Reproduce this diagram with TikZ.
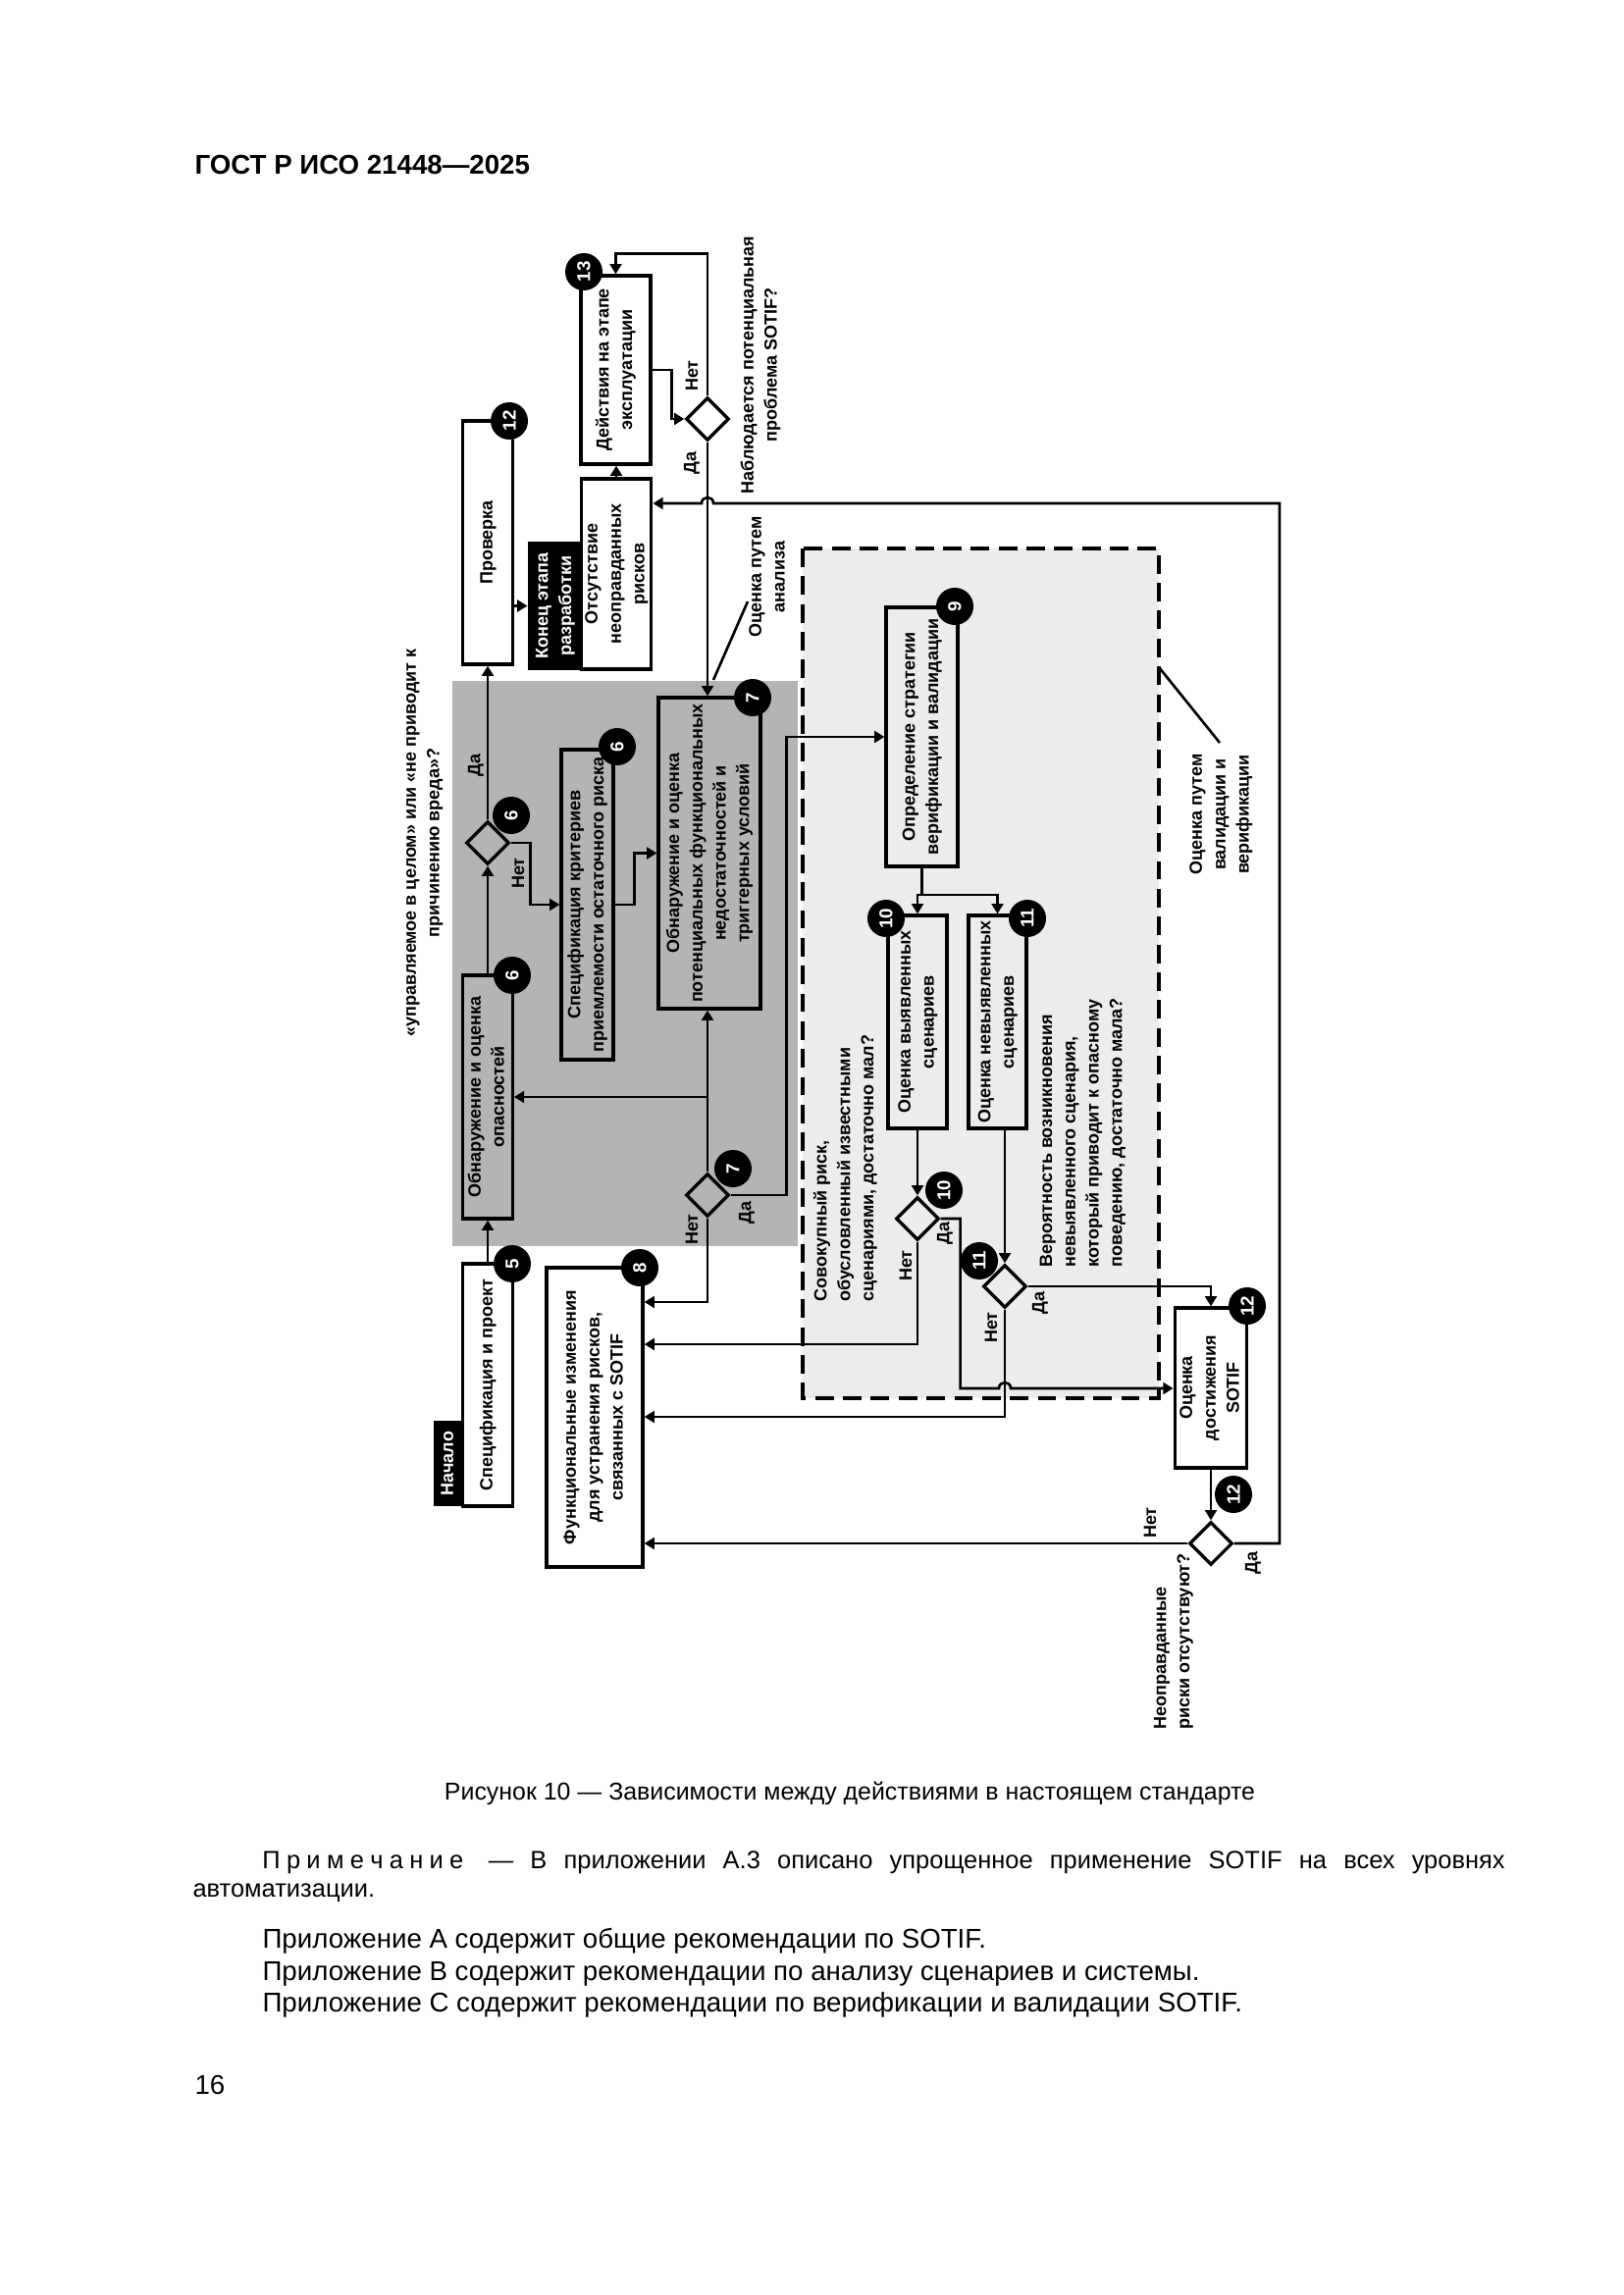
\documentclass[tikz,border=0pt]{standalone}
\usepackage{fontspec}
\setmainfont{Liberation Sans}
\usepackage{graphicx}
\usetikzlibrary{arrows.meta,shapes.geometric}
\newcommand{\pxu}{0.127mm}
\newcommand{\dfont}{\fontsize{6.5}{8.6}\selectfont\bfseries}
\newcommand{\rt}[1]{\rotatebox{90}{\begin{tabular}{@{}c@{}}#1\end{tabular}}}
\newcommand{\rtl}[1]{\rotatebox{90}{\begin{tabular}{@{}l@{}}#1\end{tabular}}}
\newcommand{\rn}[1]{\rotatebox{90}{#1}}
\definecolor{dkgray}{HTML}{B4B4B4}
\definecolor{ltgray}{HTML}{ECECEC}
\tikzset{
 bx/.style={draw, line width=1.2pt, inner sep=0pt, font=\dfont},
 sz/.style 2 args={minimum width=#1*\pxu, minimum height=#2*\pxu},
 blk/.style={fill=black, text=white, inner sep=0pt, font=\dfont},
 dec/.style={draw, diamond, line width=1.2pt, inner sep=0pt, minimum width=44*\pxu, minimum height=44*\pxu},
 num/.style={circle, fill=black, text=white, inner sep=0pt, minimum size=38*\pxu, font=\fontsize{6.8}{7}\selectfont\bfseries},
 ar/.style={line width=0.95pt, -{Triangle[length=1.3mm,width=1.5mm]}},
 ln/.style={line width=0.95pt},
 lbl/.style={inner sep=0pt, font=\dfont},
 yn/.style={inner sep=0pt, font=\dfont},
 ptxt/.style={inner sep=0pt, anchor=base west}
}
\begin{document}
\begin{tikzpicture}[x=\pxu, y=-\pxu]
\useasboundingbox (0,0) rectangle (1654,2339);
\fill[white] (0,0) rectangle (1654,2339);

% header
\node[ptxt, font=\fontsize{10}{12}\selectfont\bfseries] (hdr) at (198,178) {ГОСТ Р ИСО 21448—2025};

% regions
\fill[dkgray] (461,694) rectangle (813,1270);
\draw[fill=ltgray, line width=1.1pt, dash pattern=on 2.4mm off 1.2mm] (818,559) rectangle (1181,1425);

% boxes
\node[blk, sz={30}{87}] (nach) at (457,1491.5) {\rt{Начало}};
\node[bx, sz={50.5}{247}] (b5) at (497,1411.5) {\rt{Спецификация и проект}};
\node[bx, sz={50.5}{248}] (haz) at (497,1118) {\rt{Обнаружение и оценка\\опасностей}};
\node[dec] (d6) at (497,859) {};
\node[bx, sz={51}{248}] (chk) at (497,553) {\rt{Проверка}};
\node[bx, sz={53}{316}] (spec) at (598.5,922) {\rt{Спецификация критериев\\приемлемости остаточного риска}};
\node[bx, sz={104}{317}] (b7) at (723,869.5) {\rt{Обнаружение и оценка\\потенциальных функциональных\\недостаточностей и\\триггерных условий}};
\node[dec] (d7) at (721,1218) {};
\node[blk, sz={55}{131}] (kon) at (565.5,617.5) {\rt{Конец этапа\\разработки}};
\node[bx, sz={70}{194}] (ots) at (628,585) {\rt{Отсутствие\\неоправданных\\рисков}};
\node[bx, sz={71}{192}] (b13) at (627.5,377) {\rt{Действия на этапе\\эксплуатации}};
\node[dec] (d13) at (721,427) {};
\node[bx, sz={98}{305}] (b8) at (606,1444.5) {\rt{Функциональные изменения\\для устранения рисков,\\связанных с SOTIF}};
\node[bx, sz={73}{264}] (b9) at (939.5,751) {\rt{Определение стратегии\\верификации и валидации}};
\node[bx, sz={60}{217}] (b10) at (935,1041.5) {\rt{Оценка выявленных\\сценариев}};
\node[bx, sz={59}{217}] (b11) at (1016.5,1041.5) {\rt{Оценка невыявленных\\сценариев}};
\node[dec] (d10) at (935,1242) {};
\node[dec] (d11) at (1024,1311) {};
\node[bx, sz={73.5}{163}] (b12) at (1234,1414.5) {\rt{Оценка\\достижения\\SOTIF}};
\node[dec] (dF) at (1234,1573) {};

% connectors
\draw[ar] (b5.north) -- (haz.south);
\draw[ar] (haz.north) -- (d6.south);
\draw[ar] (d6.north) -- (chk.south);
\draw[ar] (d6.east) -- ++(20,0) |- (spec.west);
\draw[ar] (spec.east) -- ++(20,0) |- (b7.west);
\draw[ar] (chk.east |- kon.west) -- (kon.west);
\draw[ar] (ots.north) -- (ots.north |- b13.south);
\draw[ar] (b13.east) -- ++(20,0) |- (d13.west);
\draw[ar] (d13.north) -- ++(0,-145) -| (b13.north);
\draw[ar] (d13.south) -- (d13.south |- b7.north);
\coordinate (rt) at (1304,513);
\draw[ar] (dF.east) -| (rt) -- (727,513) .. controls (727,505) and (715,505) .. (715,513) -- (ots.east |- rt);
\draw[ar] (d7.north) -- (d7.north |- b7.south);
\draw[ar] (d7.north |- haz.east) -- (haz.east);
\draw[ar] (d7.east) -- ++(57,0) |- (b9.west);
\draw[ar] (d7.south) |- (b8.east |- 0,1327);
\draw[ln] (b9.south) -- (b9.south |- 0,912) coordinate (sp);
\draw[ar] (sp) -| (b10.north);
\draw[ar] (sp) -| (b11.north);
\draw[ar] (b10.south) -- (d10.north);
\draw[ar] (b11.south -| d11.north) -- (d11.north);
\draw[ar] (d10.south) |- (b8.east |- 0,1370);
\draw[ar] (d10.east) -- ++(20,0) -- ++(0,173) -- (1018,1415) .. controls (1018,1407) and (1030,1407) .. (1030,1415) -- (b12.west |- 0,1415);
\draw[ar] (d11.south) |- (b8.east |- 0,1444);
\draw[ar] (d11.east) -| (b12.north);
\draw[ar] (b12.south) -- (dF.north);
\draw[ar] (dF.west) -- (b8.east |- dF.west);

% numbered circles
\node[num] (c5) at (522,1288) {\rn{5}};
\node[num] (c6a) at (522,994) {\rn{6}};
\node[num] (c6b) at (521,831) {\rn{6}};
\node[num] (c12a) at (519,429) {\rn{12}};
\node[num] (c6c) at (629,761) {\rn{6}};
\node[num] (c7a) at (767,711) {\rn{7}};
\node[num] (c7b) at (747,1191) {\rn{7}};
\node[num] (c13) at (595,277) {\rn{13}};
\node[num] (c8) at (652,1292) {\rn{8}};
\node[num] (c9) at (973,618) {\rn{9}};
\node[num] (c10a) at (903,936) {\rn{10}};
\node[num] (c11a) at (1047,936) {\rn{11}};
\node[num] (c10b) at (962,1213) {\rn{10}};
\node[num] (c11b) at (998,1285) {\rn{11}};
\node[num] (c12b) at (1271,1331) {\rn{12}};
\node[num] (c12c) at (1257,1523) {\rn{12}};

% yes/no labels
\node[yn] (y6) at (485,780) {\rn{Да}};
\node[yn] (n6) at (528,890) {\rn{Нет}};
\node[yn] (n7) at (705,1253) {\rn{Нет}};
\node[yn] (y7) at (761,1236) {\rn{Да}};
\node[yn] (n13) at (705,383) {\rn{Нет}};
\node[yn] (y13) at (705,472) {\rn{Да}};
\node[yn] (n10) at (923,1290) {\rn{Нет}};
\node[yn] (y10) at (963,1257) {\rn{Да}};
\node[yn] (n11) at (1010,1353) {\rn{Нет}};
\node[yn] (y11) at (1060,1328) {\rn{Да}};
\node[yn] (nF) at (1172,1552) {\rn{Нет}};
\node[yn] (yF) at (1277,1593) {\rn{Да}};

% free texts
\node[lbl] (q13) at (775,372) {\rt{Наблюдается потенциальная\\проблема SOTIF?}};
\node[lbl] (q6) at (431,859) {\rt{«управляемое в целом» или «не приводит к\\причинению вреда»?}};
\node[lbl, anchor=south] (q10) at (861.5,1327) {\rtl{Совокупный риск,\\обусловленный известными\\сценариями, достаточно мал?}};
\node[lbl, anchor=south] (q11) at (1103,1292) {\rtl{Вероятность возникновения\\невыявленного сценария,\\который приводит к опасному\\поведению, достаточно мала?}};
\node[lbl, anchor=south] (qF) at (1195.5,1763) {\rtl{Неоправданные\\риски отсутствуют?}};
\node[lbl] (an) at (783,588) {\rt{Оценка путем\\анализа}};
\node[lbl] (vv) at (1244,830) {\rt{Оценка путем\\валидации и\\верификации}};
\coordinate (anp) at (762,613);
\coordinate (anq) at (727,693);
\draw[ln] (anp) -- (anq);
\coordinate (vvp) at (1181,680);
\coordinate (vvq) at (1243,757);
\draw[ln] (vvp) -- (vvq);

% page texts
\node[inner sep=0pt, anchor=base, font=\fontsize{9}{11}\selectfont] (cap) at (866,1834) {Рисунок 10 — Зависимости между действиями в настоящем стандарте};
\node[inner sep=0pt, anchor=north west, text width=169.8mm, align=justify, font=\fontsize{9.2}{10.6}\selectfont] (note) at (196,1886) {\hspace*{9.0mm}П\kern0.8mm р\kern0.8mm и\kern0.8mm м\kern0.8mm е\kern0.8mm ч\kern0.8mm а\kern0.8mm н\kern0.8mm и\kern0.8mm е\quad — В приложении А.3 описано упрощенное применение SOTIF на всех уровнях\linebreak автоматизации.};
\node[ptxt, font=\fontsize{10}{12}\selectfont] (appA) at (267,1985) {Приложение А содержит общие рекомендации по SOTIF.};
\node[ptxt, font=\fontsize{10}{12}\selectfont] (appB) at (267,2018) {Приложение В содержит рекомендации по анализу сценариев и системы.};
\node[ptxt, font=\fontsize{10}{12}\selectfont] (appC) at (267,2050) {Приложение С содержит рекомендации по верификации и валидации SOTIF.};
\node[ptxt, font=\fontsize{10}{12}\selectfont] (pg) at (198,2134) {16};
\end{tikzpicture}
\end{document}
